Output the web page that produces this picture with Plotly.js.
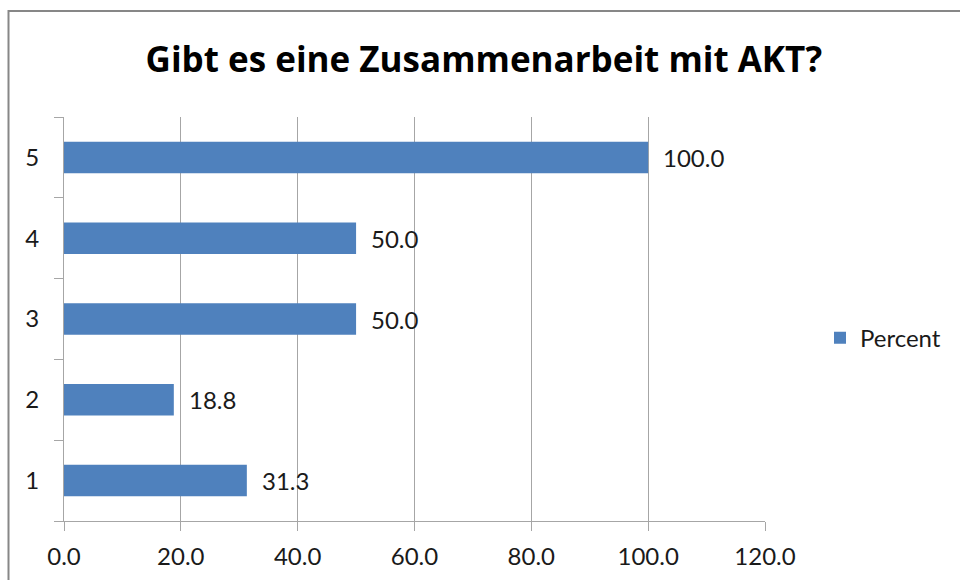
<!DOCTYPE html>
<html>
<head>
<meta charset="utf-8">
<script src="https://cdn.plot.ly/plotly-3.0.1.min.js"></script>
<style>html,body{margin:0;padding:0;background:#fff;}#chart{width:960px;height:580px;}</style>
</head>
<body>
<div id="chart"></div>
<script>
var categories = ['1', '2', '3', '4', '5'];
var percentValues = [31.3, 18.8, 50.0, 50.0, 100.0];
var xTickValues = [0, 20, 40, 60, 80, 100, 120];
var xTickLabels = ['0.0', '20.0', '40.0', '60.0', '80.0', '100.0', '120.0'];
var seriesName = 'Percent';
var chartTitle = 'Gibt es eine Zusammenarbeit mit AKT?';

var FONT = 'Lato, "Open Sans", sans-serif';
var TITLE_FONT = '"Open Sans", Lato, sans-serif';
var TXT = '#1a1a1a';

var trace = {
  type: 'bar',
  orientation: 'h',
  x: percentValues,
  y: categories,
  name: seriesName,
  width: 0.39,
  marker: {color: '#4F81BD', line: {width: 0}},
  showlegend: true,
  hoverinfo: 'x+y'
};

var annotations = percentValues.map(function (v, i) {
  return {
    x: v, y: i, xref: 'x', yref: 'y',
    text: v.toFixed(1), showarrow: false,
    xanchor: 'left', yanchor: 'middle', xshift: 13,
    font: {family: FONT, size: 24, color: TXT}
  };
});

var layout = {
  width: 960, height: 580,
  margin: {l: 64, r: 195, t: 117, b: 59, pad: 0},
  paper_bgcolor: '#fff', plot_bgcolor: '#fff',
  title: {
    text: '<b>' + chartTitle + '</b>',
    x: 0.504, xanchor: 'center', y: 0.897, yanchor: 'middle',
    font: {family: TITLE_FONT, size: 35, color: '#000'}
  },
  xaxis: {
    range: [0, 120], autorange: false, tickvals: xTickValues, ticktext: xTickLabels,
    showgrid: true, gridcolor: '#A6A6A6', gridwidth: 1,
    zeroline: false, showline: true, linecolor: '#A6A6A6', linewidth: 1,
    ticks: 'outside', ticklen: 9, tickcolor: '#A6A6A6',
    ticklabelstandoff: 5,
    tickfont: {family: FONT, size: 24, color: TXT}, fixedrange: true
  },
  yaxis: {
    type: 'category', categoryorder: 'array', categoryarray: categories,
    range: [-0.5, 4.5], autorange: false,
    showgrid: false, zeroline: false, showline: true, linecolor: '#A6A6A6', linewidth: 1,
    ticks: 'outside', ticklen: 9, tickcolor: '#A6A6A6', tickson: 'boundaries',
    ticklabelstandoff: 19,
    tickfont: {family: FONT, size: 24, color: TXT}, fixedrange: true
  },
  legend: {
    x: (820 - 64) / 701, xanchor: 'left', y: 0.4526, yanchor: 'middle',
    font: {family: FONT, size: 24, color: TXT},
    bgcolor: 'rgba(0,0,0,0)', borderwidth: 0
  },
  annotations: annotations,
  shapes: [{
    type: 'rect', xref: 'paper', yref: 'paper', layer: 'above',
    x0: (8.5 - 64) / 701, x1: (975 - 64) / 701,
    y0: -(600 - 520.7) / 403.7, y1: 1 + (117 - 11) / 403.7,
    line: {color: '#878787', width: 2}, fillcolor: 'rgba(0,0,0,0)'
  }]
};

Plotly.newPlot('chart', [trace], layout, {displayModeBar: false});
</script>
</body>
</html>
